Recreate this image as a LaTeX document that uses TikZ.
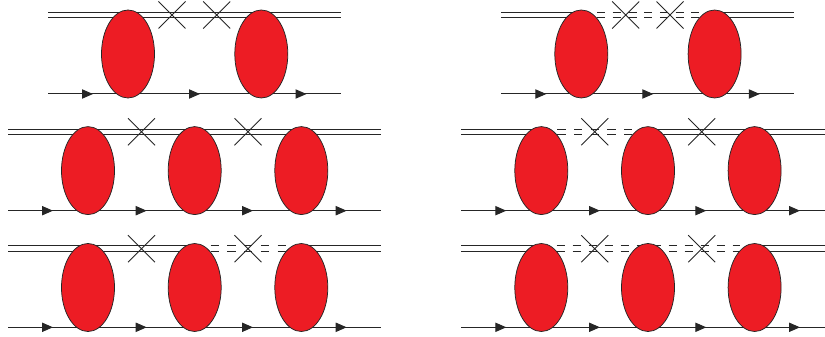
\documentclass[tikz,border=0pt]{standalone}
\usepackage{tikz}
\usetikzlibrary{arrows.meta,decorations.markings,shapes.geometric,shapes.misc}
\definecolor{blobred}{HTML}{ED1C24}
\tikzset{
  blob/.style={ellipse,draw=black!85,fill=blobred,line width=0.75pt,inner sep=0pt,outer sep=0pt,minimum width=53pt,minimum height=88pt},
  flip/.style={cross out,draw=black!85,line width=0.9pt,inner sep=0pt,outer sep=0pt,minimum size=27pt},
  heavy/.style={line width=1pt,draw=black!85},
  broken/.style={heavy,dash pattern=on 8.2pt off #1pt},
  tiphead/.tip={Triangle[length=11pt,width=9.3pt]},
  tipat/.style={postaction={decorate,decoration={markings,mark=at position #1 with {\arrow{tiphead}}}}},
  light/.style={line width=1pt,draw=black!85,tipat=45pt,tipat=152pt,tipat=258.5pt},
  lightlong/.style={line width=1pt,draw=black!85,tipat=45pt,tipat=138.7pt,tipat=245pt,tipat=338.7pt}
}

\begin{document}
\begin{tikzpicture}[x=1pt,y=1pt,line join=round]
\useasboundingbox (0,0) rectangle (825,337);
% --- top left: two rungs, solid pair
\begin{scope}
\coordinate (aL) at (48,324.3); \coordinate (aR) at (341,324.3);
\coordinate (aS) at (48,243); \coordinate (aE) at (341,243);
\foreach \dy in {0,-5} \draw[heavy] ([yshift=\dy pt]aL) -- ([yshift=\dy pt]aR);
\draw[light] (aS) -- (aE);
\node[blob] (a1) at (128,283) {}; \node[blob] (a2) at (261.3,283) {};
\node[flip] (ax1) at (172,322) {}; \node[flip] (ax2) at (216.7,322) {};
\end{scope}
% --- top right: two rungs, broken pair between them
\begin{scope}[xshift=453.3pt]
\coordinate (bL) at (48,324.3); \coordinate (bR) at (341,324.3);
\coordinate (bS) at (48,243); \coordinate (bE) at (341,243);
\coordinate (bC1) at (128,324.3); \coordinate (bC2) at (261.3,324.3);
\coordinate (bD1) at (143.7,324.3); \coordinate (bD2) at (246,324.3);
\foreach \dy in {0,-5} {
  \draw[heavy] ([yshift=\dy pt]bL) -- ([yshift=\dy pt]bC1);
  \draw[broken=7.5] ([yshift=\dy pt]bD1) -- ([yshift=\dy pt]bD2);
  \draw[heavy] ([yshift=\dy pt]bC2) -- ([yshift=\dy pt]bR);
}
\draw[light] (bS) -- (bE);
\node[blob] (b1) at (128,283) {}; \node[blob] (b2) at (261.3,283) {};
\node[flip] (bx1) at (172.4,322) {}; \node[flip] (bx2) at (216.7,322) {};
\end{scope}
% --- middle left: three rungs, solid
\begin{scope}
\coordinate (cL) at (8,207.7); \coordinate (cR) at (381,207.7);
\coordinate (cS) at (8,126.3); \coordinate (cE) at (381,126.3);
\foreach \dy in {0,-5.2} \draw[heavy] ([yshift=\dy pt]cL) -- ([yshift=\dy pt]cR);
\draw[lightlong] (cS) -- (cE);
\node[blob] (c1) at (88,166.4) {}; \node[blob] (c2) at (194.7,166.4) {}; \node[blob] (c3) at (301.3,166.4) {};
\node[flip] (cx1) at (141.5,205.2) {}; \node[flip] (cx2) at (248,205.2) {};
\end{scope}
% --- middle right: first gap broken
\begin{scope}[xshift=453.3pt]
\coordinate (dL) at (8,207.7); \coordinate (dR) at (371.7,207.7);
\coordinate (dS) at (8,126.3); \coordinate (dE) at (371.7,126.3);
\coordinate (dC1) at (88,207.7); \coordinate (dC2) at (194.7,207.7);
\coordinate (dD1) at (104,207.7); \coordinate (dD2) at (179,207.7);
\foreach \dy in {0,-5.2} {
  \draw[heavy] ([yshift=\dy pt]dL) -- ([yshift=\dy pt]dC1);
  \draw[broken=8.5] ([yshift=\dy pt]dD1) -- ([yshift=\dy pt]dD2);
  \draw[heavy] ([yshift=\dy pt]dC2) -- ([yshift=\dy pt]dR);
}
\draw[lightlong] (dS) -- (dE);
\node[blob] (d1) at (88,166.4) {}; \node[blob] (d2) at (194.7,166.4) {}; \node[blob] (d3) at (301.3,166.4) {};
\node[flip] (dx1) at (141.5,205.2) {}; \node[flip] (dx2) at (248.4,205.2) {};
\end{scope}
% --- bottom left: second gap broken
\begin{scope}
\coordinate (eL) at (8,91); \coordinate (eR) at (381,91);
\coordinate (eS) at (8,9.7); \coordinate (eE) at (381,9.7);
\coordinate (eC2) at (194.7,91); \coordinate (eC3) at (301.3,91);
\coordinate (eD1) at (210.7,91); \coordinate (eD2) at (285.7,91);
\foreach \dy in {0,-5.3} {
  \draw[heavy] ([yshift=\dy pt]eL) -- ([yshift=\dy pt]eC2);
  \draw[broken=8.5] ([yshift=\dy pt]eD1) -- ([yshift=\dy pt]eD2);
  \draw[heavy] ([yshift=\dy pt]eC3) -- ([yshift=\dy pt]eR);
}
\draw[lightlong] (eS) -- (eE);
\node[blob] (e1) at (88,49.5) {}; \node[blob] (e2) at (194.7,49.5) {}; \node[blob] (e3) at (301.3,49.5) {};
\node[flip] (ex1) at (141.5,88.3) {}; \node[flip] (ex2) at (248,88.3) {};
\end{scope}
% --- bottom right: both gaps broken
\begin{scope}[xshift=453.3pt]
\coordinate (fL) at (8,91); \coordinate (fR) at (371.7,91);
\coordinate (fS) at (8,9.7); \coordinate (fE) at (371.7,9.7);
\coordinate (fC1) at (88,91); \coordinate (fC3) at (301.3,91);
\coordinate (fD1) at (103.4,91); \coordinate (fD2) at (286.7,91);
\foreach \dy in {0,-5.3} {
  \draw[heavy] ([yshift=\dy pt]fL) -- ([yshift=\dy pt]fC1);
  \draw[broken=7.8] ([yshift=\dy pt]fD1) -- ([yshift=\dy pt]fD2);
  \draw[heavy] ([yshift=\dy pt]fC3) -- ([yshift=\dy pt]fR);
}
\draw[lightlong] (fS) -- (fE);
\node[blob] (f1) at (88,49.5) {}; \node[blob] (f2) at (194.7,49.5) {}; \node[blob] (f3) at (301.3,49.5) {};
\node[flip] (fx1) at (141.5,88.3) {}; \node[flip] (fx2) at (248.4,88.3) {};
\end{scope}
\end{tikzpicture}
\end{document}
